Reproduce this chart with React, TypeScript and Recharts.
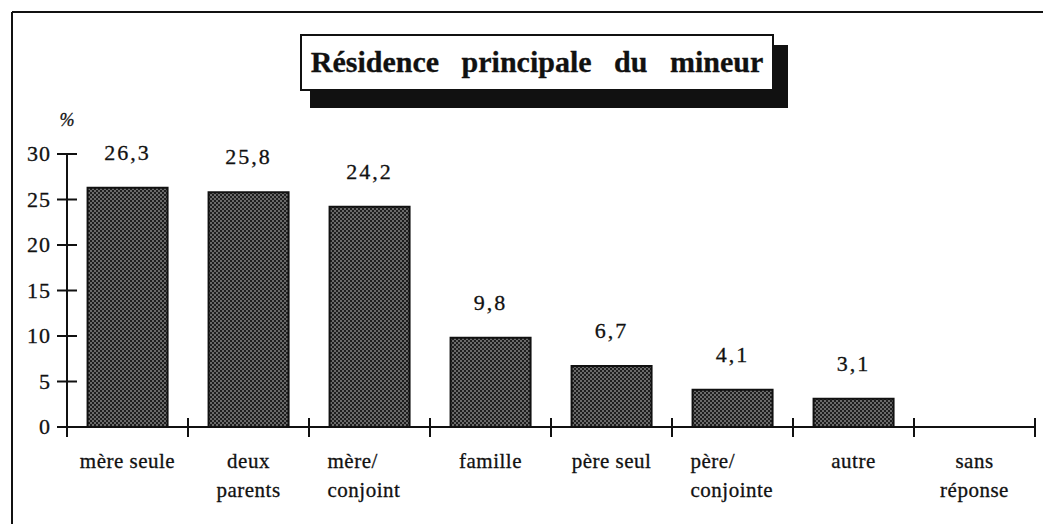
import { BarChart, Bar, XAxis, YAxis, LabelList } from 'recharts';

const categories = [
  'mère seule',
  'deux\nparents',
  'mère/\nconjoint',
  'famille',
  'père seul',
  'père/\nconjointe',
  'autre',
  'sans\nréponse',
];
const percentages: (number | null)[] = [26.3, 25.8, 24.2, 9.8, 6.7, 4.1, 3.1, null];
const yTicks = [0, 5, 10, 15, 20, 25, 30];

const data = categories.map((name, i) => ({ name, value: percentages[i] }));

const W = 1043;
const H = 524;
const MARGIN = { top: 154, right: 8, bottom: 0, left: 7 };
const Y_WIDTH = 60;
const BAND = (W - MARGIN.left - MARGIN.right - Y_WIDTH) / categories.length;
const FONT = 'Liberation Serif, Tinos, DejaVu Serif, serif';
const txt = (size: number, extra: any = {}) => ({
  fontFamily: FONT,
  fontSize: size,
  fill: '#111',
  stroke: '#111',
  strokeWidth: 0.3,
  ...extra,
});

function YTick({ x, y, payload }: any) {
  return (
    <g>
      <line x1={x - 10} x2={x + 10} y1={y} y2={y} stroke="#111" strokeWidth={2} />
      {payload.value === 0 && <line x1={x} x2={x} y1={y} y2={y + 10} stroke="#111" strokeWidth={2} />}
      <text x={x - 16} y={y + 7} textAnchor="end" style={txt(22, { letterSpacing: 1 })}>
        {payload.value}
      </text>
    </g>
  );
}

function XTick({ x, y, payload, index }: any) {
  const lines = String(payload.value).split('\n');
  const leftAlign = lines[0].endsWith('/');
  return (
    <g>
      {index === 0 && (
        <line x1={x - BAND / 2} x2={x - BAND / 2} y1={y - 9} y2={y + 10} stroke="#111" strokeWidth={2} />
      )}
      <line x1={x + BAND / 2} x2={x + BAND / 2} y1={y - 9} y2={y + 10} stroke="#111" strokeWidth={2} />
      {lines.map((t, i) => (
        <text
          key={i}
          x={leftAlign ? x - 42 : x}
          y={y + 41 + i * 29}
          textAnchor={leftAlign ? 'start' : 'middle'}
          style={txt(21, { letterSpacing: 0.5 })}
        >
          {t}
        </text>
      ))}
    </g>
  );
}

export default function App() {
  return (
    <div style={{ position: 'absolute', left: 0, top: 0, width: W, height: H, background: '#fff' }}>
      <BarChart width={W} height={H} data={data} margin={MARGIN} barCategoryGap="17%">
        <defs>
          <pattern id="stipple" width={4} height={4} patternUnits="userSpaceOnUse">
            <rect width={4} height={4} fill="#1e1e1e" />
            <rect width={2} height={2} fill="#6a6a6a" />
            <rect x={2} y={2} width={2} height={2} fill="#6a6a6a" />
          </pattern>
        </defs>
        <XAxis
          dataKey="name"
          interval={0}
          height={97}
          tickSize={0}
          tickMargin={0}
          tickLine={false}
          axisLine={{ stroke: '#111', strokeWidth: 2 }}
          tick={<XTick />}
        />
        <YAxis
          domain={[0, 30]}
          ticks={yTicks}
          width={Y_WIDTH}
          tickSize={0}
          tickMargin={0}
          tickLine={false}
          axisLine={{ stroke: '#111', strokeWidth: 2 }}
          tick={<YTick />}
        />
        <Bar dataKey="value" fill="url(#stipple)" stroke="#111" strokeWidth={2} isAnimationActive={false}>
          <LabelList
            dataKey="value"
            position="top"
            offset={28}
            style={txt(22, { letterSpacing: 2 })}
            formatter={(v: any) => (v == null ? '' : String(v).replace('.', ','))}
          />
        </Bar>
      </BarChart>
      <svg width={W} height={H} style={{ position: 'absolute', left: 0, top: 0, pointerEvents: 'none' }}>
        <line x1={12} x2={W} y1={12} y2={12} stroke="#111" strokeWidth={2} />
        <line x1={12} x2={12} y1={12} y2={H} stroke="#111" strokeWidth={2} />
        <rect x={310} y={45} width={478} height={63} fill="#111" />
        <rect x={301} y={35} width={472} height={55} fill="#fff" stroke="#111" strokeWidth={2} />
        <text x={537} y={72} textAnchor="middle" style={txt(30, { fontWeight: 'bold', wordSpacing: 15 })}>
          Résidence principale du mineur
        </text>
        <text x={67} y={126} textAnchor="middle" style={txt(18, { fontStyle: 'italic' })}>
          %
        </text>
      </svg>
    </div>
  );
}
